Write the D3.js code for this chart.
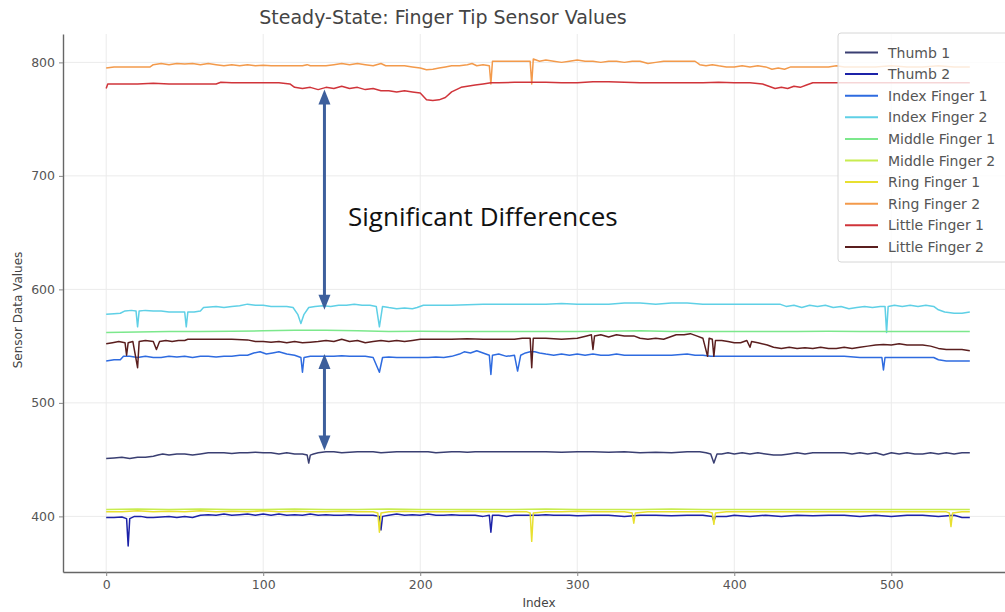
<!DOCTYPE html>
<html>
<head>
<meta charset="utf-8">
<script src="https://cdn.jsdelivr.net/npm/d3@7"></script>
<style>
  body { margin: 0; background: #fff; }
  svg { display: block; font-family: "DejaVu Sans", sans-serif; }
</style>
</head>
<body>
<svg id="board" width="1005" height="612"></svg>
<script>
// series names, in legend order
let seriesNames = ['Thumb 1', 'Thumb 2', 'Index Finger 1', 'Index Finger 2', 'Middle Finger 1',
                   'Middle Finger 2', 'Ring Finger 1', 'Ring Finger 2', 'Little Finger 1', 'Little Finger 2']

let seriesColors = ['#3a3f72', '#1c22a8', '#2e6be0', '#5fd0e6', '#7ce88c',
                    '#c8ec50', '#e8e030', '#f39a4b', '#d0343a', '#5a1e1e']

// [index, value]
let thumb1 = [[0,451],[5,451.5],[10,452],[15,451],[20,452],[25,452],[30,453],[33,454],[36,455],[40,454],[45,455],[50,455],[55,454],[60,455],[65,456],[70,456],[75,456],[80,455.5],[85,456],[90,456],[95,456.5],[100,456],[105,456],[110,455],[115,456],[120,455],[125,455],[128,454],[129,447],[130,454],[132,455],[135,456],[140,457],[145,457],[150,456],[155,456.5],[160,457],[165,457],[170,457],[175,456],[180,456.5],[185,457],[190,457],[195,457],[200,457],[205,457],[210,456],[215,456.5],[220,457],[225,457],[230,456.5],[235,457],[240,457],[250,457],[260,457],[270,457],[280,457],[290,456.5],[300,457],[310,457],[320,456.5],[330,457],[340,456],[350,456.5],[360,456],[370,457],[378,457],[382,456],[385,455],[387,447],[389,455],[392,455],[396,456],[400,455],[405,456],[410,455],[415,456],[420,455],[425,454],[430,454],[435,455],[440,456],[445,455],[450,456],[460,456],[470,456],[475,455],[480,456],[485,455],[490,456],[495,454],[500,456],[505,455],[510,456],[515,455],[520,455],[525,456],[530,455],[535,456],[540,455],[545,456],[550,456]]

let thumb2 = [[0,399],[5,399],[10,399.5],[13,398],[14,374],[15,398],[18,400],[22,400],[26,399],[30,399],[35,399.5],[40,400],[45,399],[50,400],[55,399],[60,401],[65,401.5],[70,401],[75,402],[80,401],[85,401.5],[90,402],[95,401],[100,402],[105,401],[110,402],[115,401],[120,401.5],[125,401],[130,402],[135,401],[140,401.5],[145,401],[150,401],[155,401.5],[160,401],[165,401],[170,401],[174,400],[175,388],[176,400],[180,401],[185,402],[190,401],[195,401.5],[200,401],[205,402],[210,401],[215,401],[220,401.5],[225,401],[230,401],[235,401],[240,400],[244,401],[245,386],[246,401],[250,401],[255,400],[260,401],[265,401],[270,401],[275,401],[280,401.5],[285,401],[290,401],[295,401],[300,400.5],[310,401],[320,401],[330,400],[340,401],[350,401],[360,400.5],[370,401],[380,401],[386,400],[387,396],[388,400],[395,400],[400,401],[410,400],[420,401],[430,400],[440,401],[450,400.5],[460,401],[470,401],[480,400],[490,401],[500,400],[510,401],[520,401],[530,400],[540,401],[545,399],[550,399]]

let indexFinger1 = [[0,537],[5,538],[9,538],[11,541],[15,541],[20,540],[25,541],[30,540],[35,540],[40,541],[45,540.5],[50,541],[55,540],[60,541],[65,541],[70,540.5],[75,541],[80,541],[85,542],[90,542],[94,544],[98,545],[102,543],[106,544],[110,545],[115,543],[120,542],[124,540],[125,527],[126,540],[130,541],[135,541],[140,541],[145,541],[150,541.5],[155,541],[160,541],[165,541],[170,540],[174,527],[176,540],[180,540.5],[185,540],[190,540],[195,540],[200,540],[205,540],[210,540.5],[215,540],[220,541],[225,543],[228,545],[232,544],[236,546],[240,544],[244,542],[245,525],[246,542],[250,543],[255,541],[260,542],[262,528],[264,542],[267,544],[270,545],[273,545],[276,544],[280,543],[285,542],[290,543],[295,542],[300,543],[305,542],[310,543],[315,542],[320,542],[325,543],[330,542],[340,542],[350,542],[360,542],[370,543],[375,542],[380,542],[385,541],[390,541],[400,541],[410,541],[420,541],[430,541],[440,541],[450,541],[460,541],[470,541],[480,540],[490,540],[494,540],[495,529],[496,540],[500,540],[510,540],[520,540],[527,540],[530,538],[535,537],[540,537],[545,537],[550,537]]

let indexFinger2 = [[0,578],[5,578.5],[9,579],[12,581],[16,581.5],[19,581],[20,567],[21,581],[25,581.5],[30,581],[35,581],[40,580],[45,580],[50,580],[51,567],[52,580],[56,580],[60,581],[62,584],[66,584.5],[70,585],[75,584],[80,585],[85,585.5],[90,587],[95,586],[100,586],[105,585],[110,585],[115,585],[119,584],[122,578],[124,570],[126,578],[129,584],[133,585],[138,585.5],[143,585],[148,586],[153,586],[158,587],[163,586],[168,586],[172,585],[174,567],[176,585],[180,584],[185,583],[190,583.5],[195,583],[198,584],[202,586],[210,586],[220,586],[230,586.5],[240,587],[250,587],[260,587],[270,587],[280,587],[290,587.5],[300,587],[310,587],[320,587],[330,588],[340,588],[350,587],[360,588],[370,588],[380,587],[390,587],[400,587],[410,587],[420,587],[429,587],[433,585],[438,586],[443,584],[448,586],[453,585],[458,586],[463,584],[468,585],[473,583],[478,584],[483,585],[488,584],[493,585],[496,585],[497,562],[498,585],[502,586],[507,585],[512,586],[517,585],[522,586],[527,585],[530,582],[534,580],[540,579],[545,579],[550,580]]

let middleFinger1 = [[0,562],[20,562.5],[40,563],[60,563],[80,563.2],[100,563.5],[120,564],[140,564],[160,563.5],[180,563],[200,563.2],[220,563],[240,563],[260,562.8],[280,563],[300,563],[320,563.2],[340,563.5],[360,563],[380,563],[400,562.8],[420,563],[440,563],[460,563.2],[480,563],[500,563],[520,563],[540,563],[550,563]]

let middleFinger2 = [[0,406],[20,406.5],[40,406],[60,406.5],[80,406],[100,406],[120,406.5],[140,406],[160,406],[180,406.5],[200,406],[220,406],[240,406],[260,406],[280,406.5],[300,406],[320,406],[340,406],[360,406.5],[380,406],[400,406],[420,406],[440,406],[460,406],[480,406],[500,406],[520,406],[540,406],[550,406]]

let ringFinger1 = [[0,404],[10,404],[20,405],[30,404],[40,404.5],[50,404],[60,405],[70,404],[80,404.5],[90,404],[100,405],[110,404],[120,404.5],[130,404],[140,404],[150,404.5],[160,404],[170,404],[173,403],[174,386],[175,403],[180,404],[190,404.5],[200,404],[210,404],[220,404],[230,404.5],[240,404],[250,404],[260,404],[268,404],[270,403],[271,378],[272,403],[280,404],[290,404],[300,404.5],[310,404],[320,404],[330,404],[335,403],[336,394],[337,403],[345,404],[355,404],[365,404],[375,404],[383,404],[386,403],[387,393],[388,403],[395,404],[405,404],[415,404],[425,404],[435,404],[445,404],[455,404],[465,404],[475,404],[485,404],[495,404],[505,404],[515,404],[525,404],[535,404],[537,403],[538,391],[539,403],[545,404],[550,404]]

let ringFinger2 = [[0,795],[5,796],[12,796],[20,796],[28,796],[30,798],[35,799],[40,798],[45,799],[50,798.5],[55,799],[60,798],[65,799],[70,798],[75,797],[80,798],[85,797],[90,798],[95,797],[100,797.5],[105,797],[110,797],[115,797],[120,797],[125,797],[128,798],[130,797],[135,797],[140,797],[145,798],[150,799],[155,798],[160,799],[165,798],[170,797],[175,799],[178,797],[185,797],[190,797],[195,796],[200,795],[204,793.5],[208,794],[212,795],[216,796],[220,797],[225,797],[230,798],[233,799],[236,797],[240,798],[244,797],[245,781],[246,801],[250,801],[255,801],[260,801],[265,801],[270,801],[271,781],[272,803],[276,801],[280,802],[285,801],[290,800],[295,801],[300,802],[305,801],[310,801],[315,800],[320,801],[325,801],[330,800],[335,801],[340,801],[345,799],[350,800],[355,801],[360,801],[365,801],[370,801],[375,801],[378,798],[382,797],[386,798],[390,797],[395,796],[400,796],[405,797],[410,796],[415,797],[420,796],[424,794],[428,795],[432,794],[436,796],[440,796],[445,796],[450,796],[460,796],[465,797],[470,796],[480,796],[490,796],[500,797],[510,796],[520,796],[530,797],[540,796],[550,796]]

let littleFinger1 = [[0,777],[1,781],[5,781],[10,781],[20,781],[30,781.5],[40,781],[50,781],[60,781],[70,781],[73,782.5],[80,782],[90,782],[100,782],[110,782],[117,781],[120,778],[125,777],[130,778],[135,776],[140,778],[145,777],[150,779],[155,777],[160,778],[165,776],[170,777],[175,775],[180,775],[185,774],[190,775],[195,774],[200,773],[204,767],[208,766.5],[212,767],[216,769],[220,774],[223,776],[226,778],[230,779],[235,780],[240,781],[245,782],[250,782],[260,782.5],[270,782.5],[280,782.5],[290,782],[300,782],[310,783],[320,783],[330,782.5],[340,782],[350,782],[360,782],[370,782],[380,782],[390,782.5],[400,782],[410,782],[418,781],[422,779],[426,777],[430,778],[434,777],[438,779],[442,778],[446,780],[450,782],[460,782],[470,782],[480,782],[490,782],[500,782],[510,782],[520,782],[530,782],[540,782],[550,782]]

let littleFinger2 = [[0,552],[4,553],[8,554],[12,553],[13,542],[14,553],[17,554],[20,531],[21,554],[25,555],[30,554],[32,547],[34,554],[38,555],[42,554],[46,555],[50,555],[52,556],[60,556],[70,556],[80,556],[90,555.5],[95,554],[100,554],[105,553.5],[110,554],[115,553],[120,554],[125,553],[130,553.5],[135,554],[140,555],[145,554],[150,556],[155,554],[160,555],[165,553],[170,554],[175,555],[180,554],[185,555],[190,554],[195,555],[200,556],[210,556],[220,556],[230,556.5],[240,556],[250,556],[260,556],[265,557],[270,557],[271,531],[272,557],[280,557],[290,556],[300,557],[306,559],[309,560],[310,547],[311,559],[315,560],[320,558],[325,560],[330,559],[336,559],[340,557],[345,556],[350,557],[355,556],[359,558],[363,560],[368,560],[372,561],[376,559],[380,557],[383,541],[384,557],[386,556],[387,541],[388,555],[392,555],[396,554],[400,553],[404,553],[408,555],[410,549],[411,554],[415,553],[421,551],[425,549],[430,548],[435,549],[440,548],[445,548.5],[450,548],[455,549],[460,548],[465,548],[470,549],[475,548],[480,549],[485,550],[490,551],[495,551.5],[500,551],[505,552],[510,551],[515,551],[520,551],[525,550],[530,548],[535,547],[540,547],[545,547],[550,546]]

let allSeries = [thumb1, thumb2, indexFinger1, indexFinger2, middleFinger1,
                 middleFinger2, ringFinger1, ringFinger2, littleFinger1, littleFinger2]

let xTicks = [0, 100, 200, 300, 400, 500]
let yTicks = [400, 500, 600, 700, 800]

// annotation: double arrows at index 139, label text
let arrowIndex = 139
let arrowSpans = [[776, 582], [543, 458]]
let noteText = 'Significant Differences'
let notePos = [154, 656]

let board = d3.select('#board')

let xScale = d3.scaleLinear().domain([-27.5, 577.5]).range([63, 1013])
let yScale = d3.scaleLinear().domain([351, 825]).range([572, 34])

// grid
board.append('g')
    .selectAll('line')
    .data(xTicks)
    .enter()
    .append('line')
    .attr('x1', (d) => xScale(d)).attr('x2', (d) => xScale(d))
    .attr('y1', 34).attr('y2', 572)
    .attr('stroke', '#ebebeb')
board.append('g')
    .selectAll('line')
    .data(yTicks)
    .enter()
    .append('line')
    .attr('x1', 63).attr('x2', 1013)
    .attr('y1', (d) => yScale(d)).attr('y2', (d) => yScale(d))
    .attr('stroke', '#ebebeb')

// axes
let xAxis = d3.axisBottom(xScale).tickValues(xTicks).tickSize(4).tickSizeOuter(0).tickPadding(4)
let yAxis = d3.axisLeft(yScale).tickValues(yTicks).tickSize(4).tickSizeOuter(0).tickPadding(4)

let gx = board.append('g').attr('transform', 'translate(0,572)').call(xAxis)
let gy = board.append('g').attr('transform', 'translate(63,0)').call(yAxis)
for (let g of [gx, gy]) {
    g.select('.domain').attr('stroke', '#666').attr('stroke-width', 1.4)
    g.selectAll('.tick line').attr('stroke', '#888')
    g.selectAll('.tick text').attr('fill', '#555').style('font-size', '12.5px')
        .style('font-family', '"DejaVu Sans", sans-serif')
}

// lines
let line = d3.line()
    .x((d) => xScale(d[0]))
    .y((d) => yScale(d[1]))

board.append('g')
    .selectAll('path')
    .data(allSeries)
    .enter()
    .append('path')
    .attr('d', (d) => line(d))
    .attr('fill', 'none')
    .attr('stroke', (d, i) => seriesColors[i])
    .attr('stroke-width', 1.5)
    .attr('stroke-linejoin', 'round')

// arrows
let arrowColor = '#3d5f9c'
let ax = xScale(arrowIndex)
arrowSpans.forEach((s) => {
    let yTop = yScale(s[0])
    let yBot = yScale(s[1])
    board.append('line')
        .attr('x1', ax).attr('x2', ax)
        .attr('y1', yTop + 12).attr('y2', yBot - 12)
        .attr('stroke', arrowColor).attr('stroke-width', 3)
    board.append('path')
        .attr('d', `M${ax},${yTop} L${ax - 6},${yTop + 15} L${ax + 6},${yTop + 15} Z`)
        .attr('fill', arrowColor)
    board.append('path')
        .attr('d', `M${ax},${yBot} L${ax - 6},${yBot - 15} L${ax + 6},${yBot - 15} Z`)
        .attr('fill', arrowColor)
})

board.append('text')
    .attr('x', xScale(notePos[0]))
    .attr('y', yScale(notePos[1]))
    .text(noteText)
    .style('font-family', '"Open Sans", sans-serif')
    .style('font-size', '26px')
    .attr('fill', '#111')

// title and labels
board.append('text')
    .attr('x', 443).attr('y', 24)
    .attr('text-anchor', 'middle')
    .style('font-size', '19px')
    .attr('fill', '#444')
    .text('Steady-State: Finger Tip Sensor Values')

board.append('text')
    .attr('x', 539).attr('y', 607)
    .attr('text-anchor', 'middle')
    .style('font-size', '12px')
    .attr('fill', '#444')
    .text('Index')

board.append('text')
    .attr('transform', 'translate(22,310) rotate(-90)')
    .attr('text-anchor', 'middle')
    .style('font-size', '12px')
    .attr('fill', '#444')
    .text('Sensor Data Values')

// legend
let legend = board.append('g').attr('transform', 'translate(838,33)')
legend.append('rect')
    .attr('width', 180).attr('height', 229)
    .attr('rx', 3)
    .attr('fill', '#fff').attr('fill-opacity', 0.8)
    .attr('stroke', '#d6d6d6')

let item = legend.selectAll('g.item')
    .data(seriesNames)
    .enter()
    .append('g')
    .attr('class', 'item')
    .attr('transform', (d, i) => 'translate(0,' + (19.5 + i * 21.6) + ')')

item.append('line')
    .attr('x1', 7).attr('x2', 40)
    .attr('stroke', (d, i) => seriesColors[i])
    .attr('stroke-width', 2)
item.append('text')
    .attr('x', 50).attr('y', 5)
    .style('font-size', '14px')
    .attr('fill', '#555')
    .text((d) => d)
</script>
</body>
</html>
